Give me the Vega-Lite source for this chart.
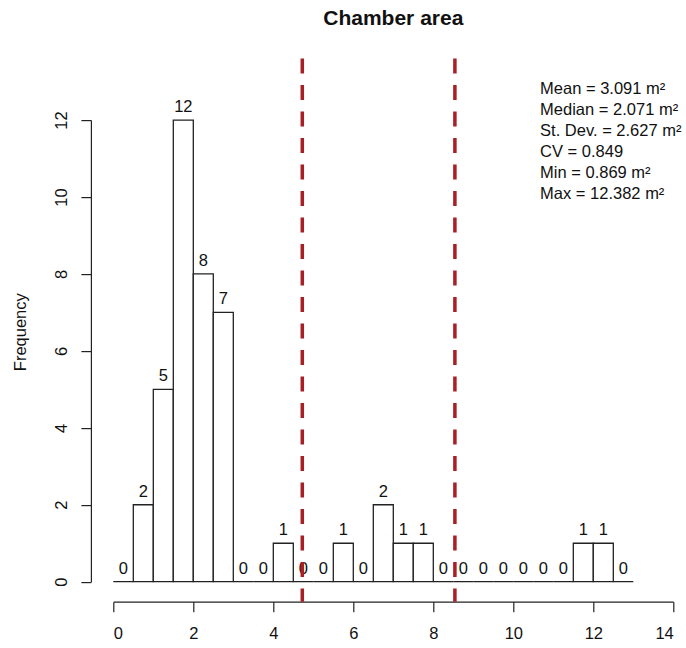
{
  "$schema": "https://vega.github.io/schema/vega-lite/v6.json",
  "width": 560,
  "height": 461.6,
  "autosize": "none",
  "padding": {"left": 113.3, "top": 120.1, "right": 12.7, "bottom": 66.3},
  "background": "white",
  "config": {"view": {"stroke": null}, "font": "Liberation Sans"},
  "title": {
    "text": "Chamber area",
    "fontSize": 21,
    "fontWeight": "bold",
    "font": "Liberation Sans",
    "color": "#111111",
    "anchor": "middle",
    "baseline": "alphabetic",
    "offset": 11
  },
  "datasets": {
    "bins": [
      {"start": 0, "end": 0.5, "mid": 0.25, "count": 0},
      {"start": 0.5, "end": 1, "mid": 0.75, "count": 2},
      {"start": 1, "end": 1.5, "mid": 1.25, "count": 5},
      {"start": 1.5, "end": 2, "mid": 1.75, "count": 12},
      {"start": 2, "end": 2.5, "mid": 2.25, "count": 8},
      {"start": 2.5, "end": 3, "mid": 2.75, "count": 7},
      {"start": 3, "end": 3.5, "mid": 3.25, "count": 0},
      {"start": 3.5, "end": 4, "mid": 3.75, "count": 0},
      {"start": 4, "end": 4.5, "mid": 4.25, "count": 1},
      {"start": 4.5, "end": 5, "mid": 4.75, "count": 0},
      {"start": 5, "end": 5.5, "mid": 5.25, "count": 0},
      {"start": 5.5, "end": 6, "mid": 5.75, "count": 1},
      {"start": 6, "end": 6.5, "mid": 6.25, "count": 0},
      {"start": 6.5, "end": 7, "mid": 6.75, "count": 2},
      {"start": 7, "end": 7.5, "mid": 7.25, "count": 1},
      {"start": 7.5, "end": 8, "mid": 7.75, "count": 1},
      {"start": 8, "end": 8.5, "mid": 8.25, "count": 0},
      {"start": 8.5, "end": 9, "mid": 8.75, "count": 0},
      {"start": 9, "end": 9.5, "mid": 9.25, "count": 0},
      {"start": 9.5, "end": 10, "mid": 9.75, "count": 0},
      {"start": 10, "end": 10.5, "mid": 10.25, "count": 0},
      {"start": 10.5, "end": 11, "mid": 10.75, "count": 0},
      {"start": 11, "end": 11.5, "mid": 11.25, "count": 0},
      {"start": 11.5, "end": 12, "mid": 11.75, "count": 1},
      {"start": 12, "end": 12.5, "mid": 12.25, "count": 1},
      {"start": 12.5, "end": 13, "mid": 12.75, "count": 0}
    ],
    "cuts": [{"x": 4.725}, {"x": 8.54}]
  },
  "layer": [
    {
      "data": {"name": "bins"},
      "mark": {"type": "bar", "fill": "white", "stroke": "#222222", "strokeWidth": 1.3},
      "encoding": {
        "x": {
          "field": "start",
          "type": "quantitative",
          "scale": {"domain": [0, 14], "nice": false, "zero": false},
          "axis": {
            "values": [0, 2, 4, 6, 8, 10, 12, 14],
            "offset": 20,
            "tickSize": 10,
            "labelPadding": 14,
            "labelFontSize": 16.5,
            "labelFont": "Liberation Sans",
            "labelColor": "#111111",
            "labelBaseline": "top",
            "domainColor": "#222222",
            "tickColor": "#222222",
            "domainWidth": 1.2,
            "tickWidth": 1.2,
            "grid": false,
            "title": null
          }
        },
        "x2": {"field": "end"},
        "y": {
          "field": "count",
          "type": "quantitative",
          "scale": {"domain": [0, 12], "nice": false},
          "axis": {
            "values": [0, 2, 4, 6, 8, 10, 12],
            "offset": 22.4,
            "tickSize": 10,
            "labelAngle": -90,
            "labelAlign": "center",
            "labelBaseline": "alphabetic",
            "labelPadding": 14,
            "labelFontSize": 16.5,
            "labelFont": "Liberation Sans",
            "labelColor": "#111111",
            "domainColor": "#222222",
            "tickColor": "#222222",
            "domainWidth": 1.2,
            "tickWidth": 1.2,
            "grid": false,
            "title": "Frequency",
            "titleFont": "Liberation Sans",
            "titleFontSize": 16.5,
            "titleFontWeight": "normal",
            "titleColor": "#111111",
            "titleAngle": -90,
            "titleAlign": "center",
            "titleBaseline": "alphabetic",
            "titleX": -65.7,
            "titleY": 211.6
          }
        },
        "y2": {"datum": 0}
      }
    },
    {
      "data": {"name": "bins"},
      "mark": {"type": "text", "dy": -8, "baseline": "alphabetic", "align": "center", "fontSize": 16.5, "font": "Liberation Sans", "color": "#111111"},
      "encoding": {
        "x": {"field": "mid", "type": "quantitative"},
        "y": {"field": "count", "type": "quantitative"},
        "text": {"field": "count", "type": "quantitative"}
      }
    },
    {
      "data": {"name": "cuts"},
      "mark": {"type": "rule", "color": "#A81F26", "strokeWidth": 3.5, "strokeDash": [15, 11.5], "strokeCap": "butt"},
      "encoding": {
        "x": {"field": "x", "type": "quantitative"},
        "y": {"datum": 13.6, "type": "quantitative"},
        "y2": {"datum": -0.52}
      }
    },
    {
      "data": {"values": [{}]},
      "mark": {
        "type": "text",
        "text": ["Mean = 3.091 m²", "Median = 2.071 m²", "St. Dev. = 2.627 m²", "CV = 0.849", "Min = 0.869 m²", "Max = 12.382 m²"],
        "align": "left",
        "baseline": "alphabetic",
        "lineHeight": 21,
        "fontSize": 16.5,
        "font": "Liberation Sans",
        "color": "#111111"
      },
      "encoding": {
        "x": {"datum": 10.67, "type": "quantitative"},
        "y": {"datum": 12.68, "type": "quantitative"}
      }
    }
  ]
}
